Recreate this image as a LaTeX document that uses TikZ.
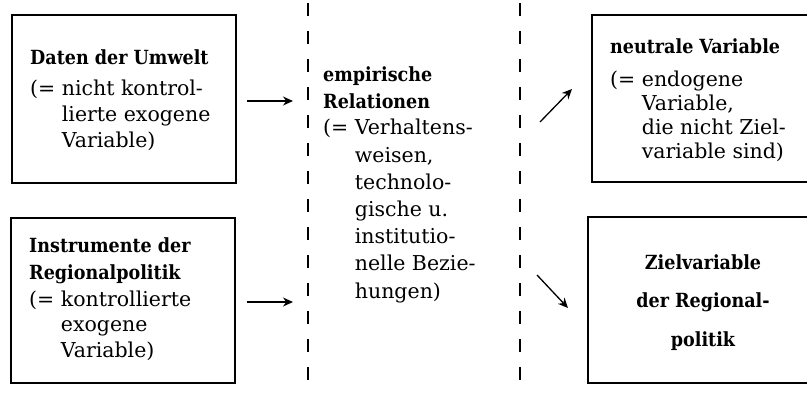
\documentclass[tikz,border=0pt]{standalone}
\usepackage{fontspec}
\setmainfont{DejaVu Serif}
\newfontfamily\headfont{DejaVu Serif Condensed}
\usetikzlibrary{arrows.meta}
\newcommand{\einzug}{\hphantom{(=\ }}
\tikzset{
    kasten/.style={draw,line width=1.8pt,inner sep=0pt},
    kopf/.style={font=\headfont\bfseries\fontsize{19.5}{27}\selectfont,anchor=base west,align=left,inner sep=0pt},
    inhalt/.style={font=\fontsize{20.5}{26}\selectfont,anchor=base west,align=left,inner sep=0pt},
    trenn/.style={line width=1.2pt,dash pattern=on 13pt off 15pt},
    pfeil/.style={line width=1.3pt,-{Stealth[length=10pt,width=9pt]}},
}
\begin{document}
\begin{tikzpicture}[x=1pt,y=-1pt]
                \useasboundingbox (0,0) rectangle (807,392);
                % Kaesten links (Position = Grundlinie der letzten Zeile)
                \node[kasten,minimum width=224pt,minimum height=168pt] (umwelt) at (124,99) {};
                \node[kasten,minimum width=224pt,minimum height=165pt] (instr) at (123,300.5) {};
                \node[kopf] (umweltk) at (30,64) {Daten der Umwelt};
                \node[inhalt] (umweltt) at (30,147) {(=\ nicht kontrol-\\ \einzug lierte exogene\\ \einzug Variable)};
                \node[kopf] (instrk) at (29,279) {Instrumente der\\Regionalpolitik};
                \node[inhalt,font=\fontsize{20.5}{25.5}\selectfont] (instrt) at (29,357) {(=\ kontrollierte\\ \einzug exogene\\ \einzug Variable)};
                % Trennlinien
                \draw[trenn] (308,3) coordinate(t1o) -- (308,392) coordinate(t1u);
                \draw[trenn] (520,3) coordinate(t2o) -- (520,392) coordinate(t2u);
                % Mitte
                \node[kopf] (relk) at (323,108) {empirische\\Relationen};
                \node[inhalt,font=\fontsize{20.5}{27.2}\selectfont] (relt) at (323,298) {(=\ Verhaltens-\\ \einzug weisen,\\ \einzug technolo-\\ \einzug gische u.\\ \einzug institutio-\\ \einzug nelle Bezie-\\ \einzug hungen)};
                % Kaesten rechts
                \draw[line width=1.8pt] (807,15) -| (592,182) -- (807,182);
                \draw[line width=1.8pt] (807,217) -| (588,383) -- (807,383);
                \node[kopf] (neutrk) at (610,53) {neutrale Variable};
                \node[inhalt,font=\fontsize{20.5}{24}\selectfont] (neutrt) at (610,158) {(=\ endogene\\ \einzug Variable,\\ \einzug die nicht Ziel-\\ \einzug variable sind)};
                \node[kopf,anchor=base,align=center,font=\headfont\bfseries\fontsize{19.5}{38.5}\selectfont] (ziel) at (703,346) {Zielvariable\\der Regional-\\politik};
                % Pfeile
                \draw (247,101) coordinate(p1s) (293,101) coordinate(p1e);
                \draw (247,302) coordinate(p2s) (293,302) coordinate(p2e);
                \draw (540,122) coordinate(p3s) (572,89) coordinate(p3e);
                \draw (537,275) coordinate(p4s) (568,308) coordinate(p4e);
                \draw[pfeil] (p1s) -- (p1e);
                \draw[pfeil] (p2s) -- (p2e);
                \draw[pfeil] (p3s) -- (p3e);
                \draw[pfeil] (p4s) -- (p4e);
            \end{tikzpicture}
\end{document}
